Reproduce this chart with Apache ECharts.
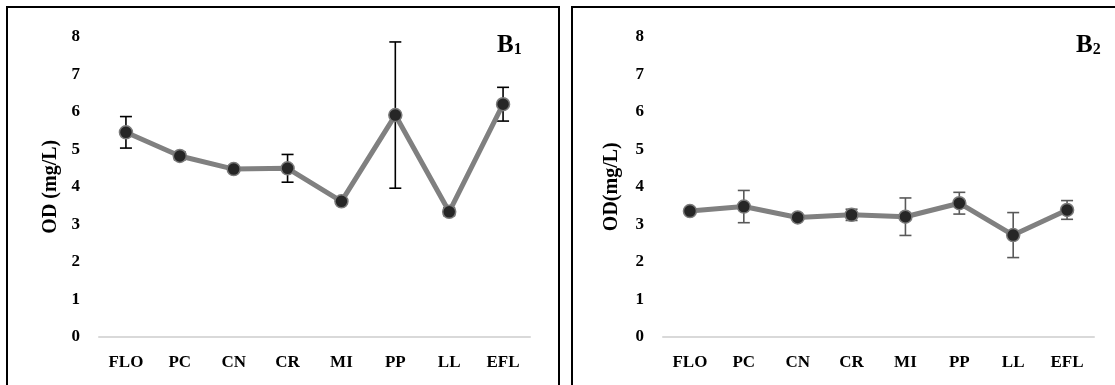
<!DOCTYPE html>
<html>
<head>
<meta charset="utf-8">
<script src="https://cdn.jsdelivr.net/npm/echarts@6/dist/echarts.min.js"></script>
<style>
  html, body { margin: 0; padding: 0; background: #fff; }
  #chart { width: 1115px; height: 385px; }
</style>
</head>
<body>
<div id="chart"></div>
<script>
// Sampling sites along the stream
const categories = ['FLO', 'PC', 'CN', 'CR', 'MI', 'PP', 'LL', 'EFL'];

// Panel B1: dissolved oxygen mean and standard deviation (mg/L)
const b1Mean = [5.45, 4.82, 4.47, 4.49, 3.61, 5.91, 3.33, 6.20];
const b1Err  = [0.42, 0.10, 0.06, 0.37, 0.06, 1.95, 0.10, 0.45];

// Panel B2: dissolved oxygen mean and standard deviation (mg/L)
const b2Mean = [3.35, 3.47, 3.18, 3.25, 3.20, 3.56, 2.71, 3.38];
const b2Err  = [0.05, 0.43, 0.05, 0.15, 0.50, 0.29, 0.60, 0.25];

const yTicks = [0, 1, 2, 3, 4, 5, 6, 7, 8];

const FONT = '"Liberation Serif", "Times New Roman", serif';

function errorData(mean, err) {
  return mean.map((m, i) => [i, m - err[i], m + err[i]]);
}

function errorSeries(idx, mean, err, color) {
  return {
    type: 'custom',
    xAxisIndex: idx,
    yAxisIndex: idx,
    z: 1,
    silent: true,
    data: errorData(mean, err),
    renderItem: function (params, api) {
      const lo = api.coord([api.value(0), api.value(1)]);
      const hi = api.coord([api.value(0), api.value(2)]);
      const half = 6;
      const style = { stroke: color, lineWidth: 1.6, fill: null };
      return {
        type: 'group',
        children: [
          { type: 'line', shape: { x1: lo[0], y1: lo[1], x2: hi[0], y2: hi[1] }, style: style },
          { type: 'line', shape: { x1: lo[0] - half, y1: lo[1], x2: lo[0] + half, y2: lo[1] }, style: style },
          { type: 'line', shape: { x1: hi[0] - half, y1: hi[1], x2: hi[0] + half, y2: hi[1] }, style: style }
        ]
      };
    }
  };
}

function lineSeries(idx, mean) {
  return {
    type: 'line',
    xAxisIndex: idx,
    yAxisIndex: idx,
    z: 3,
    data: mean,
    symbol: 'circle',
    symbolSize: 13,
    lineStyle: { color: '#808080', width: 5 },
    itemStyle: { color: '#262626', borderColor: '#7a7a7a', borderWidth: 1.5 },
    emphasis: { disabled: true }
  };
}

function xAxis(idx) {
  return {
    type: 'category',
    gridIndex: idx,
    data: categories,
    boundaryGap: true,
    axisLine: { lineStyle: { color: '#d9d9d9', width: 2 } },
    axisTick: { show: false },
    axisLabel: { color: '#000', fontFamily: FONT, fontWeight: 'bold', fontSize: 17, margin: 17 }
  };
}

function yAxis(idx, name, gap) {
  return {
    type: 'value',
    gridIndex: idx,
    min: 0,
    max: yTicks[yTicks.length - 1],
    interval: 1,
    name: name,
    nameLocation: 'middle',
    nameGap: gap,
    nameTextStyle: { color: '#000', fontFamily: FONT, fontWeight: 'bold', fontSize: 20 },
    axisLine: { show: false },
    axisTick: { show: false },
    splitLine: { show: false },
    axisLabel: { color: '#000', fontFamily: FONT, fontWeight: 'bold', fontSize: 17, margin: 19 }
  };
}

function panelLabel(left, sub) {
  return {
    left: left,
    top: 25,
    text: '{b|B}{s|' + sub + '}',
    textStyle: {
      rich: {
        b: { fontFamily: FONT, fontWeight: 'bold', fontSize: 25, color: '#000', lineHeight: 28, verticalAlign: 'bottom' },
        s: { fontFamily: FONT, fontWeight: 'bold', fontSize: 16, color: '#000', lineHeight: 28, verticalAlign: 'bottom' }
      }
    }
  };
}

const chart = echarts.init(document.getElementById('chart'), null, { renderer: 'canvas' });

chart.setOption({
  animation: false,
  backgroundColor: '#fff',
  title: [panelLabel(492, '1'), panelLabel(1071, '2')],
  graphic: [
    { type: 'rect', shape: { x: 7, y: 7, width: 552, height: 400 }, style: { fill: null, stroke: '#000', lineWidth: 2 }, silent: true },
    { type: 'rect', shape: { x: 572, y: 7, width: 560, height: 400 }, style: { fill: null, stroke: '#000', lineWidth: 2 }, silent: true }
  ],
  grid: [
    { left: 99, width: 431, top: 36.7, bottom: 48.3 },
    { left: 663, width: 431, top: 36.7, bottom: 48.3 }
  ],
  xAxis: [xAxis(0), xAxis(1)],
  yAxis: [yAxis(0, 'OD (mg/L)', 38), yAxis(1, 'OD(mg/L)', 41)],
  series: [
    errorSeries(0, b1Mean, b1Err, '#000'),
    lineSeries(0, b1Mean),
    errorSeries(1, b2Mean, b2Err, '#595959'),
    lineSeries(1, b2Mean)
  ]
});
</script>
</body>
</html>
